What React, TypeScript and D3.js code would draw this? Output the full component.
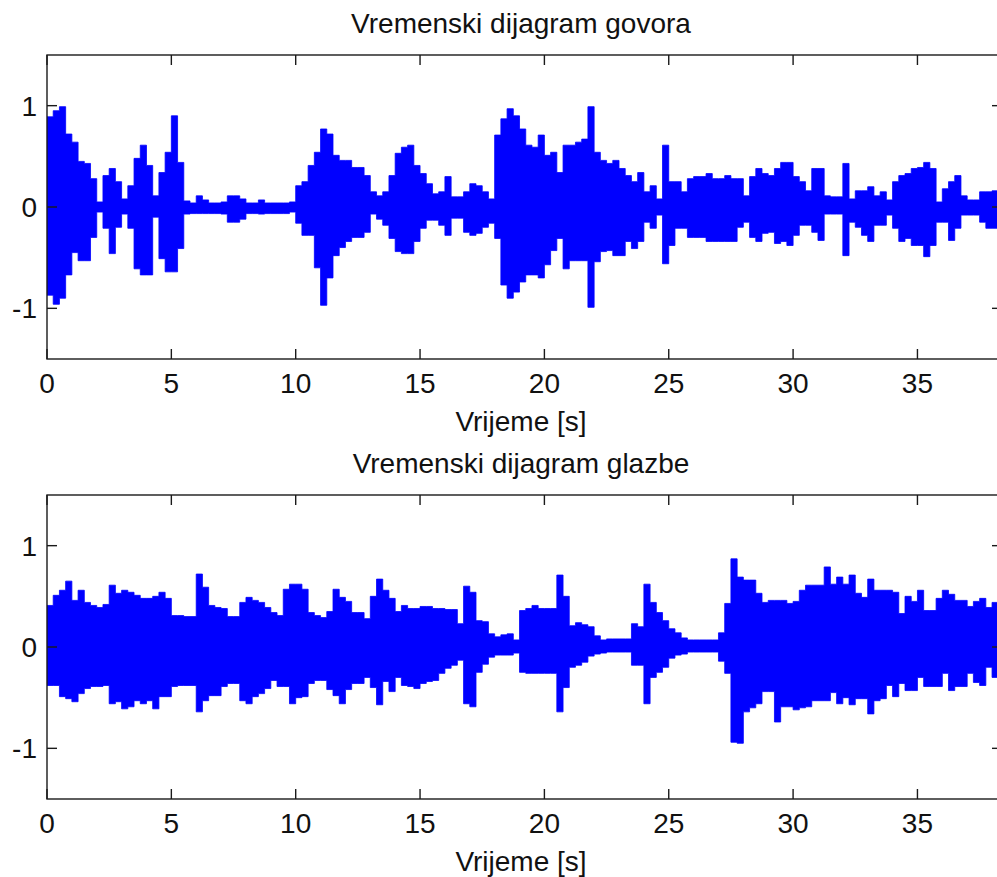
import React from "react";
import * as d3 from "d3";

const sampleStep = 0.25;
const xTicks = [0, 5, 10, 15, 20, 25, 30, 35];
const yTicks = [-1, 0, 1];
const titles = ["Vremenski dijagram govora", "Vremenski dijagram glazbe"];
const xLabel = "Vrijeme [s]";

const speechUpper = [
  0.89, 0.95, 0.99, 0.72, 0.64, 0.45, 0.43, 0.28, 0.05, 0.31, 0.38, 0.25, 0.08, 0.21, 0.48, 0.61,
  0.41, 0.11, 0.34, 0.54, 0.9, 0.44, 0.06, 0.04, 0.11, 0.07, 0.04, 0.04, 0.05, 0.11, 0.11, 0.08,
  0.04, 0.04, 0.07, 0.04, 0.04, 0.04, 0.04, 0.05, 0.21, 0.25, 0.41, 0.54, 0.77, 0.72, 0.51, 0.46,
  0.46, 0.39, 0.39, 0.31, 0.15, 0.11, 0.15, 0.31, 0.53, 0.59, 0.61, 0.41, 0.33, 0.23, 0.13, 0.15,
  0.3, 0.1, 0.1, 0.15, 0.23, 0.21, 0.15, 0.08, 0.71, 0.87, 0.97, 0.9, 0.77, 0.61, 0.59, 0.71,
  0.51, 0.54, 0.34, 0.61, 0.61, 0.64, 0.67, 0.99, 0.54, 0.46, 0.43, 0.46, 0.38, 0.31, 0.25, 0.34,
  0.15, 0.21, 0.08, 0.61, 0.25, 0.25, 0.15, 0.28, 0.3, 0.3, 0.33, 0.28, 0.28, 0.31, 0.28, 0.28,
  0.11, 0.3, 0.38, 0.33, 0.31, 0.38, 0.44, 0.44, 0.3, 0.25, 0.16, 0.38, 0.38, 0.11, 0.1, 0.1,
  0.43, 0.08, 0.16, 0.16, 0.2, 0.11, 0.15, 0.07, 0.25, 0.31, 0.33, 0.38, 0.39, 0.44, 0.38, 0.05,
  0.18, 0.25, 0.31, 0.11, 0.07, 0.07, 0.15, 0.15, 0.16, 0.16, 0.16,
];
const speechLower = [
  -0.87, -0.96, -0.9, -0.67, -0.45, -0.53, -0.53, -0.3, -0.05, -0.21, -0.46, -0.2, -0.07, -0.21, -0.61, -0.67,
  -0.67, -0.1, -0.51, -0.64, -0.64, -0.41, -0.07, -0.065, -0.065, -0.065, -0.065, -0.065, -0.07, -0.15, -0.15, -0.12,
  -0.065, -0.065, -0.07, -0.065, -0.065, -0.065, -0.065, -0.05, -0.16, -0.28, -0.28, -0.6, -0.97, -0.7, -0.48, -0.4,
  -0.34, -0.3, -0.3, -0.25, -0.07, -0.12, -0.18, -0.31, -0.44, -0.46, -0.46, -0.34, -0.21, -0.13, -0.13, -0.18,
  -0.28, -0.11, -0.11, -0.25, -0.28, -0.26, -0.2, -0.16, -0.31, -0.77, -0.9, -0.84, -0.74, -0.67, -0.67, -0.7,
  -0.57, -0.43, -0.31, -0.61, -0.53, -0.53, -0.53, -0.99, -0.54, -0.44, -0.43, -0.48, -0.48, -0.34, -0.41, -0.34,
  -0.15, -0.21, -0.08, -0.56, -0.38, -0.21, -0.21, -0.3, -0.3, -0.3, -0.34, -0.34, -0.34, -0.34, -0.34, -0.2,
  -0.15, -0.3, -0.34, -0.26, -0.25, -0.36, -0.34, -0.38, -0.28, -0.18, -0.18, -0.25, -0.33, -0.07, -0.07, -0.07,
  -0.48, -0.15, -0.2, -0.28, -0.34, -0.18, -0.18, -0.08, -0.21, -0.34, -0.31, -0.38, -0.38, -0.49, -0.38, -0.15,
  -0.15, -0.33, -0.21, -0.08, -0.08, -0.08, -0.15, -0.21, -0.21, -0.21, -0.21,
];
const musicUpper = [
  0.41, 0.51, 0.56, 0.65, 0.46, 0.56, 0.44, 0.41, 0.39, 0.42, 0.61, 0.53, 0.56, 0.54, 0.51, 0.48,
  0.48, 0.5, 0.54, 0.48, 0.31, 0.31, 0.3, 0.3, 0.72, 0.59, 0.41, 0.39, 0.38, 0.3, 0.3, 0.44,
  0.49, 0.46, 0.44, 0.39, 0.34, 0.31, 0.57, 0.62, 0.62, 0.57, 0.34, 0.31, 0.29, 0.35, 0.57, 0.49,
  0.45, 0.34, 0.34, 0.28, 0.5, 0.67, 0.56, 0.48, 0.35, 0.41, 0.38, 0.38, 0.4, 0.4, 0.38, 0.38,
  0.37, 0.37, 0.23, 0.6, 0.54, 0.26, 0.25, 0.13, 0.1, 0.12, 0.13, 0.07, 0.36, 0.38, 0.41, 0.38,
  0.38, 0.38, 0.71, 0.5, 0.21, 0.24, 0.22, 0.2, 0.11, 0.07, 0.08, 0.08, 0.08, 0.08, 0.23, 0.2,
  0.62, 0.44, 0.34, 0.26, 0.18, 0.14, 0.09, 0.07, 0.07, 0.07, 0.07, 0.07, 0.14, 0.43, 0.87, 0.69,
  0.66, 0.66, 0.53, 0.44, 0.46, 0.46, 0.46, 0.43, 0.45, 0.56, 0.61, 0.61, 0.61, 0.79, 0.62, 0.69,
  0.62, 0.71, 0.53, 0.49, 0.67, 0.56, 0.56, 0.56, 0.54, 0.33, 0.5, 0.45, 0.56, 0.36, 0.36, 0.48,
  0.56, 0.52, 0.46, 0.46, 0.4, 0.45, 0.48, 0.39, 0.44, 0.3, 0.3,
];
const musicLower = [
  -0.38, -0.38, -0.49, -0.51, -0.54, -0.46, -0.41, -0.39, -0.39, -0.38, -0.56, -0.54, -0.61, -0.59, -0.53, -0.56,
  -0.53, -0.61, -0.49, -0.49, -0.39, -0.38, -0.38, -0.38, -0.64, -0.53, -0.48, -0.48, -0.39, -0.36, -0.36, -0.53,
  -0.56, -0.49, -0.46, -0.41, -0.33, -0.39, -0.39, -0.56, -0.5, -0.49, -0.36, -0.33, -0.33, -0.42, -0.48, -0.56,
  -0.42, -0.36, -0.36, -0.3, -0.4, -0.57, -0.34, -0.44, -0.3, -0.38, -0.39, -0.41, -0.36, -0.34, -0.33, -0.26,
  -0.21, -0.18, -0.13, -0.56, -0.59, -0.25, -0.17, -0.1, -0.08, -0.08, -0.08, -0.06, -0.25, -0.26, -0.26, -0.26,
  -0.26, -0.26, -0.64, -0.4, -0.2, -0.18, -0.15, -0.09, -0.07, -0.06, -0.05, -0.05, -0.05, -0.05, -0.18, -0.18,
  -0.56, -0.3, -0.25, -0.2, -0.11, -0.08, -0.07, -0.05, -0.05, -0.05, -0.05, -0.05, -0.14, -0.26, -0.94, -0.95,
  -0.64, -0.6, -0.56, -0.44, -0.44, -0.74, -0.59, -0.59, -0.62, -0.6, -0.59, -0.53, -0.53, -0.53, -0.45, -0.56,
  -0.5, -0.57, -0.51, -0.51, -0.66, -0.53, -0.51, -0.38, -0.49, -0.36, -0.43, -0.43, -0.3, -0.39, -0.39, -0.39,
  -0.26, -0.43, -0.39, -0.39, -0.26, -0.35, -0.38, -0.2, -0.3, -0.3, -0.3,
];

const W = 997;
const H = 877;
const LEFT = 47;
const RIGHT = 1002;
const X_MAX = 38.4;
const FONT = "'Liberation Sans', Arial, Helvetica, sans-serif";
const AXIS = "#1a1a1a";
const TICK_LEN = 10;

function Panel({ title, upper, lower, top, id }: { title: string; upper: number[]; lower: number[]; top: number; id: string }) {
  const bottom = top + 304;
  const x = d3.scaleLinear().domain([0, X_MAX]).range([LEFT, RIGHT]);
  const y = d3.scaleLinear().domain([-1.5, 1.5]).range([bottom, top]);
  const idx = d3.range(upper.length);
  const area = d3
    .area<number>()
    .x((i) => x(i * sampleStep))
    .y0((i) => y(lower[i]))
    .y1((i) => y(upper[i]))
    .curve(d3.curveStepAfter);
  const d = area(idx) || "";
  const cx = 521;
  return (
    <g>
      <defs>
        <clipPath id={id}>
          <rect x={LEFT} y={top} width={RIGHT - LEFT} height={bottom - top} />
        </clipPath>
      </defs>
      <g clipPath={`url(#${id})`}>
        <path d={d} fill="#0000ff" stroke="#0000ff" strokeWidth={0.8} />
      </g>
      <rect x={LEFT} y={top} width={RIGHT - LEFT} height={bottom - top} fill="none" stroke={AXIS} strokeWidth={1.4} />
      {xTicks.map((t) => (
        <g key={`x${t}`}>
          <line x1={x(t)} x2={x(t)} y1={bottom} y2={bottom - TICK_LEN} stroke={AXIS} strokeWidth={1.4} />
          <line x1={x(t)} x2={x(t)} y1={top} y2={top + TICK_LEN} stroke={AXIS} strokeWidth={1.4} />
          <text x={x(t)} y={bottom + 34} textAnchor="middle" fontFamily={FONT} fontSize={28} fill="#111">
            {t}
          </text>
        </g>
      ))}
      {yTicks.map((v) => (
        <g key={`y${v}`}>
          <line x1={LEFT} x2={LEFT + TICK_LEN} y1={y(v)} y2={y(v)} stroke={AXIS} strokeWidth={1.4} />
          <line x1={RIGHT} x2={RIGHT - TICK_LEN} y1={y(v)} y2={y(v)} stroke={AXIS} strokeWidth={1.4} />
          <text x={37} y={y(v) + 10} textAnchor="end" fontFamily={FONT} fontSize={28} fill="#111">
            {v}
          </text>
        </g>
      ))}
      <text x={cx} y={top - 22} textAnchor="middle" fontFamily={FONT} fontSize={28} fill="#111">
        {title}
      </text>
      <text x={cx} y={bottom + 72} textAnchor="middle" fontFamily={FONT} fontSize={28} fill="#111">
        {xLabel}
      </text>
    </g>
  );
}

export default function App() {
  return (
    <svg
      width={W}
      height={H}
      viewBox={`0 0 ${W} ${H}`}
      style={{ position: "absolute", left: 0, top: 0, background: "#fff", display: "block" }}
    >
      <rect x={0} y={0} width={W} height={H} fill="#fff" />
      <Panel title={titles[0]} upper={speechUpper} lower={speechLower} top={55} id="clipA" />
      <Panel title={titles[1]} upper={musicUpper} lower={musicLower} top={495} id="clipB" />
    </svg>
  );
}
